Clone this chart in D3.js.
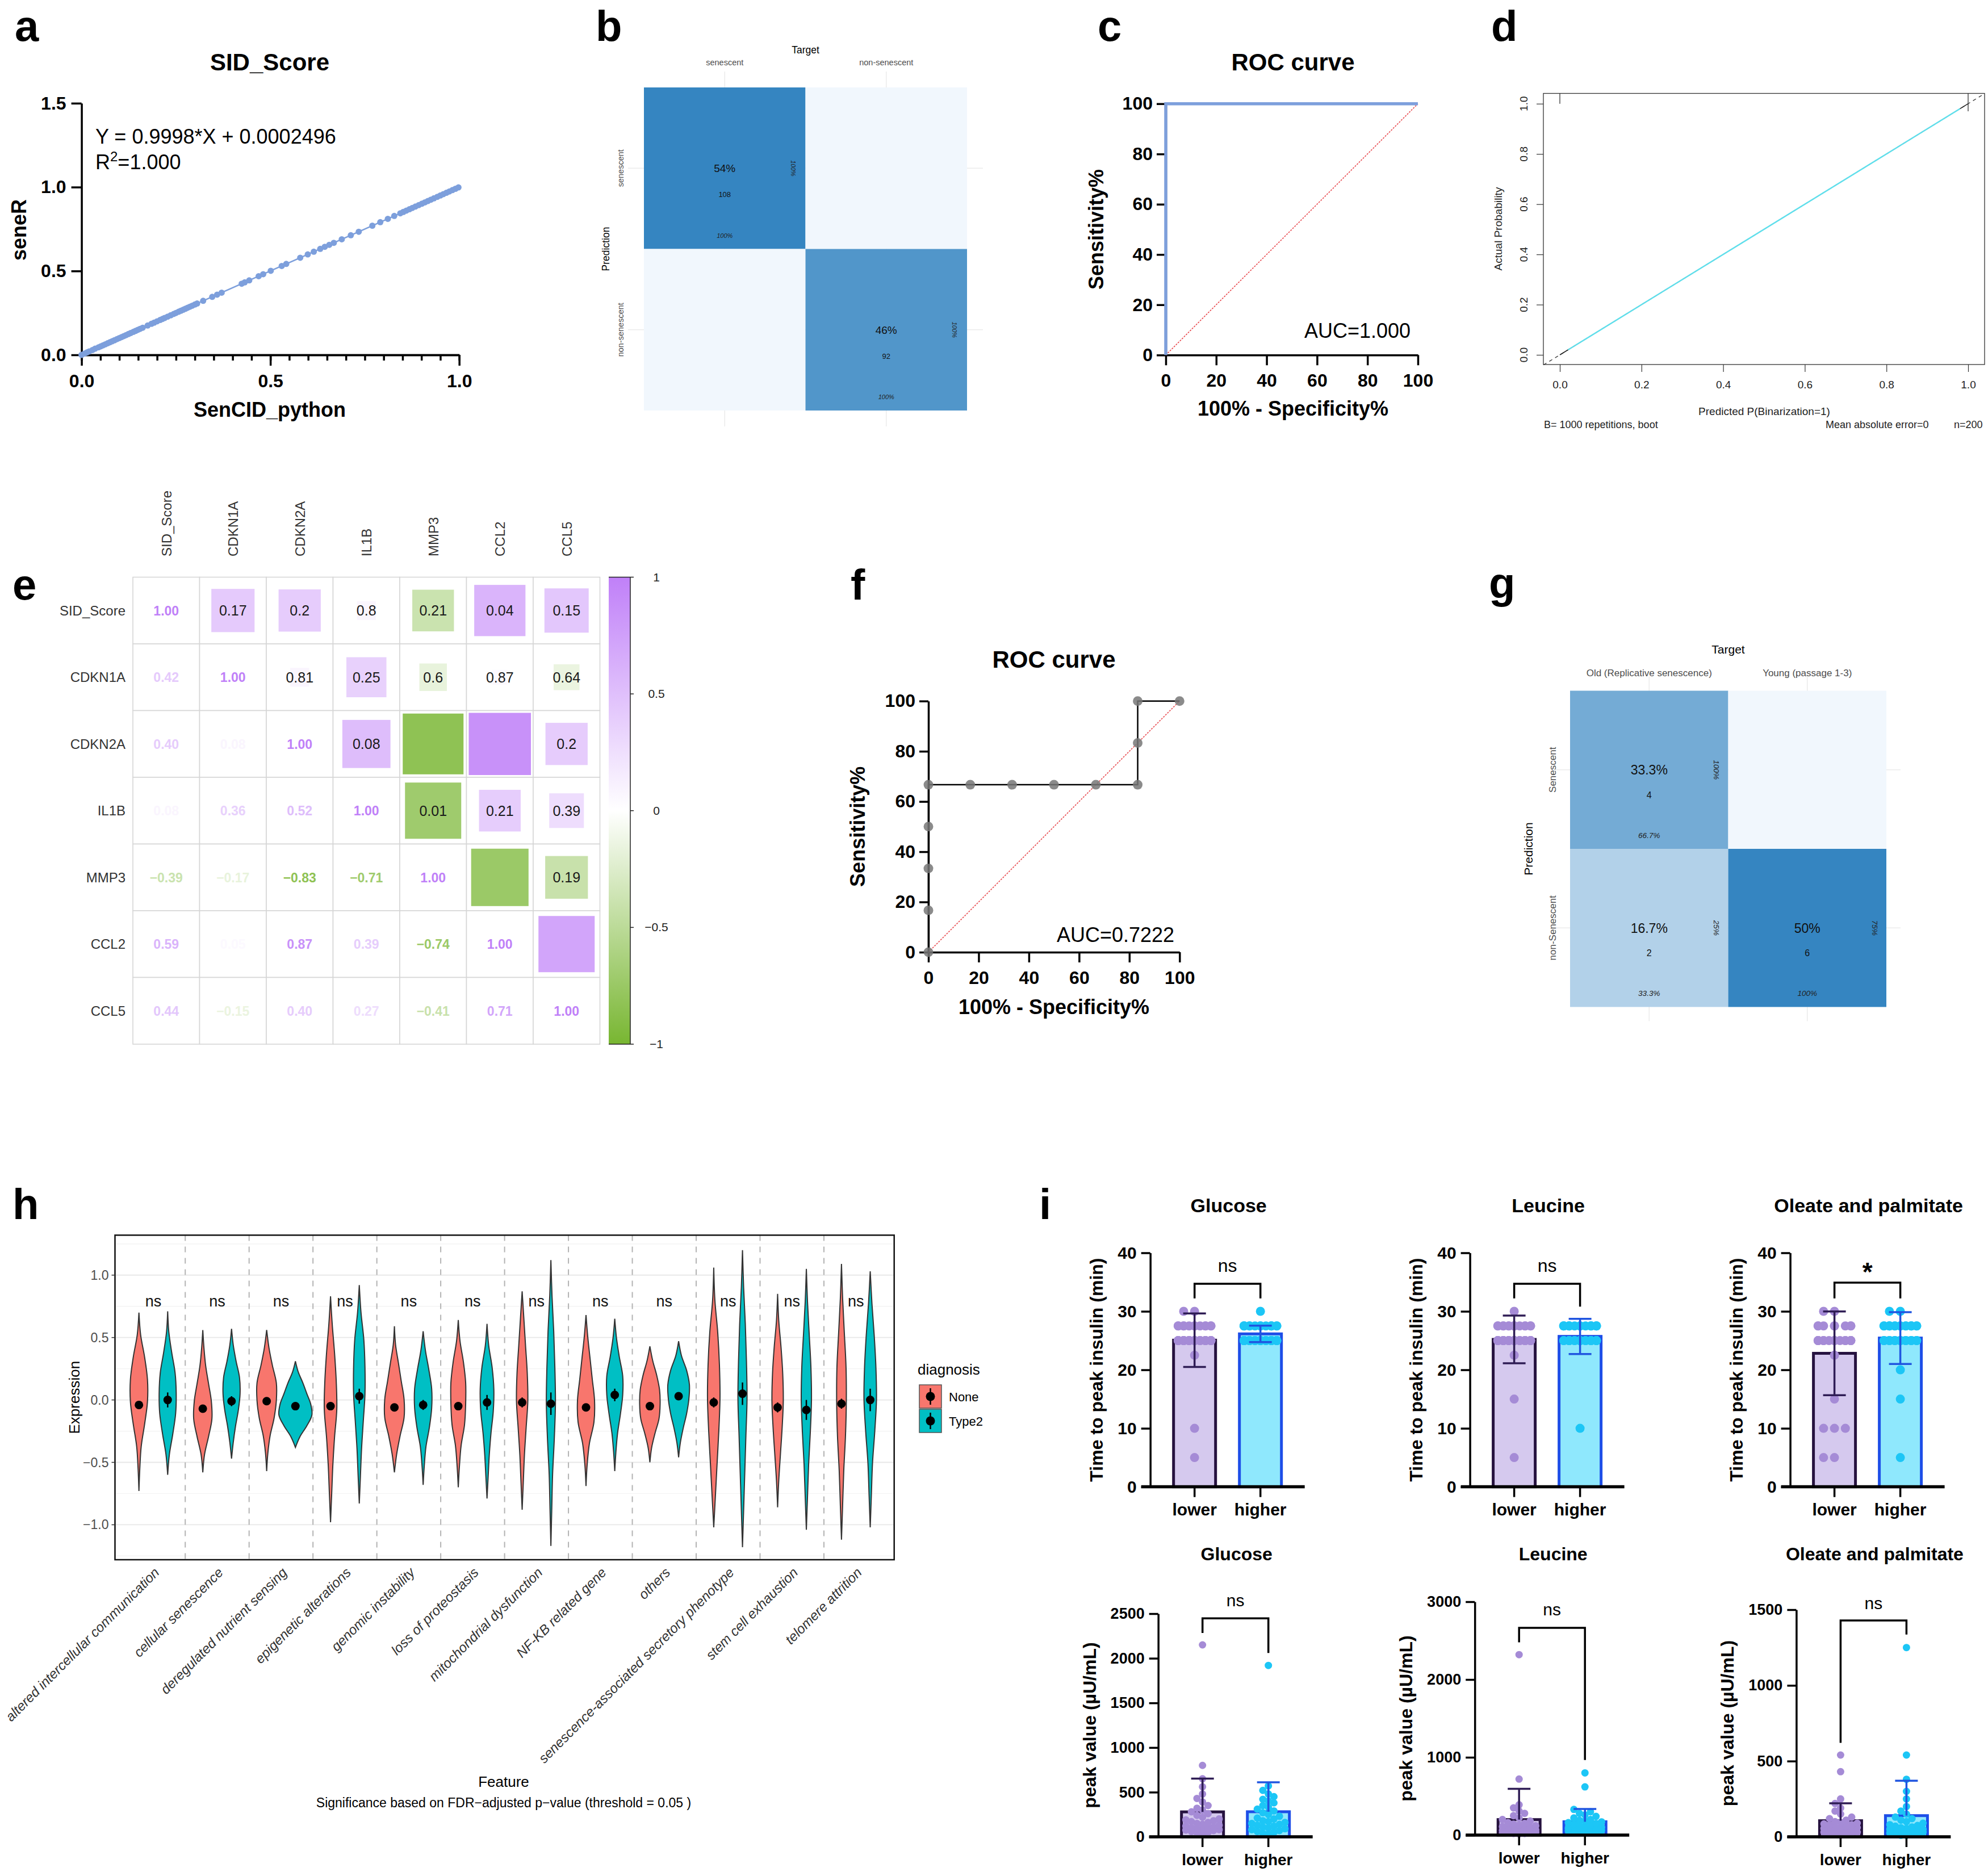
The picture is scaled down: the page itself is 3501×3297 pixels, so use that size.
<!DOCTYPE html>
<html lang="en">
<head>
<meta charset="UTF-8">
<title>SID score validation figure</title>
<script src="https://cdn.jsdelivr.net/npm/d3@7"></script>
<style>
  body { margin: 0; background: #fff; }
  svg { display: block; }
</style>
</head>
<body>
<svg id="fig" width="3501" height="3297"></svg>
<script>
// ================= data =================

// a: SID_Score, seneR vs SenCID_python
var sidX = [0.000,0.008,0.014,0.020,0.029,0.036,0.045,0.051,0.057,0.063,0.069,0.075,0.081,0.087,0.094,0.100,0.106,0.112,0.118,0.124,0.130,0.137,0.143,0.149,0.155,0.162,0.175,0.185,0.192,0.200,0.208,0.214,0.220,0.228,0.236,0.244,0.250,0.257,0.263,0.269,0.275,0.281,0.287,0.293,0.300,0.306,0.322,0.346,0.359,0.371,0.424,0.432,0.444,0.469,0.481,0.501,0.530,0.542,0.579,0.599,0.615,0.632,0.644,0.656,0.668,0.689,0.713,0.734,0.770,0.791,0.811,0.828,0.844,0.852,0.860,0.868,0.876,0.884,0.893,0.901,0.909,0.917,0.925,0.933,0.942,0.950,0.958,0.966,0.974,0.982,0.990,0.998];
var sidY = [0.000,0.008,0.014,0.020,0.029,0.037,0.045,0.051,0.057,0.063,0.069,0.075,0.081,0.087,0.094,0.100,0.106,0.112,0.118,0.124,0.130,0.137,0.143,0.149,0.155,0.162,0.175,0.185,0.192,0.200,0.208,0.214,0.220,0.228,0.236,0.244,0.250,0.257,0.263,0.269,0.275,0.281,0.287,0.293,0.300,0.306,0.322,0.346,0.359,0.371,0.424,0.432,0.444,0.469,0.481,0.501,0.530,0.542,0.579,0.599,0.615,0.632,0.644,0.656,0.668,0.689,0.713,0.734,0.770,0.791,0.811,0.828,0.844,0.852,0.860,0.868,0.876,0.884,0.893,0.901,0.909,0.917,0.925,0.933,0.942,0.950,0.958,0.966,0.974,0.982,0.990,0.998];

// b: confusion matrix (rows = prediction, cols = target)
var cmBLabels = ["senescent", "non-senescent"];
var cmBCounts = [[108, 0], [0, 92]];

// c: ROC, SID_Score
var rocC = [[0, 0], [0, 100], [100, 100]];

// d: calibration
var calibApparent = [[0, 0], [1, 1]];
var calibBias = [[0.02, 0.02], [0.98, 0.98]];
var calibIdeal = [[-0.04, -0.04], [1.04, 1.04]];
var calibRug = [[0, 1.0], [1.0, 0.97]];

// e: correlations (lower triangle r) and p values (upper triangle)
var genes = ["SID_Score", "CDKN1A", "CDKN2A", "IL1B", "MMP3", "CCL2", "CCL5"];
var corrR = [
  [1],
  [0.42, 1],
  [0.40, 0.08, 1],
  [0.08, 0.36, 0.52, 1],
  [-0.39, -0.17, -0.83, -0.71, 1],
  [0.59, 0.05, 0.87, 0.39, -0.74, 1],
  [0.44, -0.15, 0.40, 0.27, -0.41, 0.71, 1]
];
var corrP = [
  ["0.17", "0.2", "0.8", "0.21", "0.04", "0.15"],
  ["0.81", "0.25", "0.6", "0.87", "0.64"],
  ["0.08", "", "", "0.2"],
  ["0.01", "0.21", "0.39"],
  ["", "0.19"],
  [""]
];
var corrTicks = [1, 0.5, 0, -0.5, -1];

// f: ROC, validation
var rocF = [[0,0],[0,16.67],[0,33.33],[0,50],[0,66.67],[16.67,66.67],[33.33,66.67],[50,66.67],[66.67,66.67],[83.33,66.67],[83.33,83.33],[83.33,100],[100,100]];

// g: confusion matrix
var cmGCols = ["Old (Replicative senescence)", "Young (passage 1-3)"];
var cmGRows = ["Senescent", "non-Senescent"];
var cmGCounts = [[4, 0], [2, 6]];

// h: hallmark violins
var features = ["altered intercellular communication","cellular senescence","deregulated nutrient sensing","epigenetic alterations","genomic instability","loss of proteostasis","mitochondrial dysfunction","NF-KB related gene","others","senescence-associated secretory phenotype","stem cell exhaustion","telomere attrition"];
var diagnosis = ["None", "Type2"];
var noneRange = [[-0.73,0.70],[-0.58,0.56],[-0.57,0.56],[-0.98,0.83],[-0.58,0.59],[-0.70,0.64],[-0.88,0.87],[-0.69,0.68],[-0.50,0.43],[-1.02,1.06],[-0.86,0.85],[-1.12,1.09]];
var type2Range = [[-0.60,0.71],[-0.47,0.57],[-0.38,0.31],[-0.83,0.92],[-0.68,0.55],[-0.79,0.61],[-1.17,1.12],[-0.57,0.65],[-0.46,0.47],[-1.18,1.20],[-1.04,1.05],[-1.02,1.03]];
// density read at 9 evenly spaced levels from min to max
var noneShape = [
  [0,1.5,4,10,15,15,10,3,0],
  [0,3,10,16,15,10,5,2,0],
  [0,2,6,13,17,17,10,4,0],
  [0,2,4,7,11,10,7,3,0],
  [0,4,10,17,17,12,7,2,0],
  [0,2,5,11,13,13,9,3,0],
  [0,2,4,7,10,9,6,3,0],
  [0,2,6,14,15,11,7,3,0],
  [0,3,9,16,18,17,12,5,0],
  [0,3,6,9,11,10,7,2,0],
  [0,2,5,8,10,9,6,2,0],
  [0,2,4,7,8.5,8,5,2,0]
];
var type2Shape = [
  [0,3,9,14,15,13,7,2,0],
  [0,3,7,12,15,14,8,3,0],
  [0,8,20,29,27,20,13,5,0],
  [0,2,4,7,10,10,8,3,0],
  [0,2,5,11,15,15,10,4,0],
  [0,2,4,7,11,12,9,3,0],
  [0,1.5,3,6,8,7,5,2,0],
  [0,2,5,10,14,14,8,3,0],
  [0,3,8,14,18,19,14,5,0],
  [0,2,4,6,8,7,5,2,0],
  [0,2,4,7,9,8,5,2,0],
  [0,2,4,8,11,10,7,3,0]
];
var noneMean = [-0.04,-0.07,-0.01,-0.05,-0.06,-0.05,-0.02,-0.06,-0.05,-0.02,-0.06,-0.03];
var type2Mean = [0.00,-0.01,-0.05,0.03,-0.04,-0.02,-0.03,0.04,0.03,0.05,-0.08,0.00];
var noneSE = [0.03,0.03,0.03,0.03,0.03,0.03,0.04,0.03,0.03,0.04,0.04,0.04];
var type2SE = [0.06,0.04,0.03,0.06,0.04,0.06,0.09,0.05,0.03,0.09,0.08,0.09];
var featureSig = ["ns","ns","ns","ns","ns","ns","ns","ns","ns","ns","ns","ns"];

// i: insulin secretion
var stimuli = ["Glucose", "Leucine", "Oleate and palmitate"];
var groups = ["lower", "higher"];
var glucoseTimeLower = [30,30,27.5,27.5,27.5,27.5,27.5,27.5,27.5,27.5,27.5,27.5,27.5,27.5,25,25,25,25,25,25,25,25,25,25,25,25,25,25,25,25,25,25,25,25,22.5,10,5];
var glucoseTimeHigher = [30,27.5,27.5,27.5,27.5,27.5,27.5,27.5,27.5,27.5,27.5,27.5,27.5,27.5,27.5,25,25,25,25,25,25,25,25,25,25,25,25,25,25,25,25,25,25,25,25];
var leucineTimeLower = [30,27.5,27.5,27.5,27.5,27.5,27.5,27.5,27.5,27.5,27.5,27.5,27.5,27.5,27.5,25,25,25,25,25,25,25,25,25,25,25,25,25,25,25,25,25,25,25,25,22.5,15,5];
var leucineTimeHigher = [27.5,27.5,27.5,27.5,27.5,27.5,27.5,27.5,27.5,27.5,27.5,27.5,27.5,27.5,27.5,27.5,25,25,25,25,25,25,25,25,25,25,25,25,25,25,25,25,25,25,10];
var oleateTimeLower = [30,30,27.5,27.5,27.5,27.5,27.5,27.5,27.5,27.5,25,25,25,25,25,25,25,25,25,25,25,25,25,25,22.5,15,10,10,10,5,5];
var oleateTimeHigher = [30,30,27.5,27.5,27.5,27.5,27.5,27.5,27.5,27.5,27.5,27.5,27.5,27.5,27.5,27.5,27.5,27.5,25,25,25,25,25,25,25,25,25,25,25,25,25,25,20,15,5];
var glucosePeakLower = [2150,800,650,560,480,430,390,350,320,300,280,260,240,220,200,190,180,170,160,150,140,130,120,110,100,95,90,85,80,75,70,60,50,45,40];
var glucosePeakHigher = [1920,570,520,480,450,420,400,380,350,330,310,290,270,250,230,210,200,180,170,160,150,140,130,120,110,100,90,80,70,60,50,40,30];
var leucinePeakLower = [2320,720,390,350,310,280,250,220,200,180,160,150,140,130,120,110,100,90,80,75,70,65,60,55,50,45,40,40,35,30,30,25,20,20,15];
var leucinePeakHigher = [800,620,330,300,280,260,240,220,200,190,180,170,160,150,140,130,120,110,100,90,85,80,75,70,65,60,55,50,45,40,35,30];
var oleatePeakLower = [540,430,250,220,190,170,150,130,120,110,100,95,90,85,80,75,70,65,60,60,55,50,45,40,40,35,30,30,25,20,20,15,10];
var oleatePeakHigher = [1250,540,380,300,250,200,170,150,130,120,110,100,90,80,75,70,65,60,55,50,50,45,40,40,35,30,30,25,20,20,15,10,10];
var timeSig = ["ns", "ns", "*"];
var peakSig = ["ns", "ns", "ns"];
// brackets in data units: [bar height, left leg end, right leg end, label height]
var timeBrackets = [[34.7,32.2,32.2,36.7],[34.7,32.2,30.8,36.7],[34.9,32.2,32.2,36.4]];
var peakBrackets = [[2447,2284,2060,2580],[2665,2479,965,2827],[1429,621,1336,1503]];

// ================= drawing =================
var FONT = "'Liberation Sans', Arial, Helvetica, sans-serif";
var svg = d3.select("#fig").attr("font-family", FONT);
svg.append("rect").attr("width", 3501).attr("height", 3297).attr("fill", "#fff");

function txt(parent, x, y, s, size, o) {
  o = o || {};
  var t = parent.append("text").attr("x", x).attr("y", y)
    .attr("font-size", size).attr("fill", o.fill || "#000")
    .attr("text-anchor", o.anchor || "start").text(s);
  if (o.bold) t.attr("font-weight", "bold");
  if (o.italic) t.attr("font-style", "italic");
  if (o.rot) t.attr("transform", "rotate(" + o.rot + "," + x + "," + y + ")");
  return t;
}

function styleAxis(a, size, o) {
  o = o || {};
  a.attr("font-family", null).attr("font-size", null);
  a.selectAll("path, line").attr("stroke", o.stroke || "#000").attr("stroke-width", o.sw || 3.5);
  a.selectAll("text").attr("font-size", size).attr("fill", o.fill || "#000")
    .attr("font-weight", o.bold ? "bold" : null);
}

// panel letters
[["a", 26, 72], ["b", 1049, 72], ["c", 1933, 72], ["d", 2626, 72],
 ["e", 22, 1056], ["f", 1498, 1056], ["g", 2622, 1053],
 ["h", 22, 2147], ["i", 1830, 2147]].forEach(function (l) {
  txt(svg, l[1], l[2], l[0], 76, { bold: true });
});

// ---------- a ----------
(function () {
  var g = svg.append("g");
  var x = d3.scaleLinear().domain([0, 1]).range([143.6, 808.7]);
  var y = d3.scaleLinear().domain([0, 1.5]).range([625, 181.8]);
  var minor = g.append("g").attr("transform", "translate(0,625)")
    .call(d3.axisBottom(x).tickValues(d3.range(0, 21).map(function (i) { return i / 20; }))
      .tickSize(10).tickFormat("").tickSizeOuter(0));
  styleAxis(minor, 31);
  var xa = g.append("g").attr("transform", "translate(0,625)")
    .call(d3.axisBottom(x).tickValues([0, 0.5, 1]).tickSize(19).tickPadding(15)
      .tickFormat(d3.format(".1f")).tickSizeOuter(0));
  styleAxis(xa, 32, { bold: true });
  var ya = g.append("g").attr("transform", "translate(143.6,0)")
    .call(d3.axisLeft(y).tickValues([0, 0.5, 1, 1.5]).tickSize(18).tickPadding(9)
      .tickFormat(d3.format(".1f")).tickSizeOuter(0));
  styleAxis(ya, 32, { bold: true });

  g.append("line").attr("x1", x(0)).attr("y1", y(0.0002496))
    .attr("x2", x(1)).attr("y2", y(0.9998 + 0.0002496))
    .attr("stroke", "#7d9fdc").attr("stroke-width", 2.5);
  g.selectAll("circle.pt").data(sidX).enter().append("circle")
    .attr("cx", function (d) { return x(d); })
    .attr("cy", function (d, i) { return y(sidY[i]); })
    .attr("r", 5.5).attr("fill", "#7d9fdc");

  txt(g, 475, 124, "SID_Score", 42, { bold: true, anchor: "middle" });
  txt(g, 168, 253, "Y = 0.9998*X + 0.0002496", 36);
  var r2 = txt(g, 168, 298, "R", 36);
  r2.append("tspan").attr("dy", -14).attr("font-size", 24).text("2");
  r2.append("tspan").attr("dy", 14).text("=1.000");
  txt(g, 475, 734, "SenCID_python", 36, { bold: true, anchor: "middle" });
  txt(g, 46, 405, "seneR", 36, { bold: true, anchor: "middle", rot: -90 });
})();

// ---------- confusion matrices (b, g) ----------
function drawCM(o) {
  var g = svg.append("g");
  var xb = d3.scaleBand().domain(o.cols).range([o.x, o.x + o.size]);
  var yb = d3.scaleBand().domain(o.rows).range([o.y, o.y + o.size]);
  var cw = xb.bandwidth(), ch = yb.bandwidth();
  var flat = o.counts.flat();
  var total = d3.sum(flat);
  var fill = d3.scaleLinear().domain([0, d3.max(flat)]).range(["#f1f7fd", "#3585c1"]);
  var pct = function (v) { return d3.format(".1~f")(v * 100) + "%"; };
  var grid = "#ebebeb";

  o.cols.forEach(function (c) {
    var cx = xb(c) + cw / 2;
    g.append("line").attr("x1", cx).attr("x2", cx).attr("y1", o.y - o.stub).attr("y2", o.y + o.size + o.stub)
      .attr("stroke", grid).attr("stroke-width", 1.5);
    txt(g, cx, o.y - o.colLab, c, o.f.axis, { anchor: "middle", fill: "#4d4d4d" });
  });
  o.rows.forEach(function (r) {
    var cy = yb(r) + ch / 2;
    g.append("line").attr("y1", cy).attr("y2", cy).attr("x1", o.x - o.stub).attr("x2", o.x + o.size + o.stub)
      .attr("stroke", grid).attr("stroke-width", 1.5);
    txt(g, o.x - o.rowLab, cy, r, o.f.axis, { anchor: "middle", fill: "#4d4d4d", rot: -90 });
  });

  o.rows.forEach(function (r, i) {
    o.cols.forEach(function (c, j) {
      var n = o.counts[i][j];
      g.append("rect").attr("x", xb(c)).attr("y", yb(r)).attr("width", cw).attr("height", ch)
        .attr("fill", fill(n));
      if (n === 0) return;
      var cx = xb(c) + cw / 2, cy = yb(r) + ch / 2;
      var colTot = d3.sum(o.counts, function (row) { return row[j]; });
      var rowTot = d3.sum(o.counts[i]);
      txt(g, cx, cy + o.f.main * 0.36, pct(n / total), o.f.main, { anchor: "middle", fill: "#111" });
      txt(g, cx, cy + ch * 0.18, n, o.f.count, { anchor: "middle", fill: "#111" });
      txt(g, cx, cy + ch * 0.43, pct(n / colTot), o.f.small, { anchor: "middle", italic: true, fill: "#222" });
      txt(g, cx + cw * 0.41, cy, pct(n / rowTot), o.f.small, { anchor: "middle", italic: true, fill: "#222", rot: 90 });
    });
  });

  txt(g, o.x + o.size / 2, o.y - o.target, "Target", o.f.title, { anchor: "middle" });
  txt(g, o.x - o.pred, o.y + o.size / 2, "Prediction", o.f.title, { anchor: "middle", rot: -90 });
}

drawCM({ x: 1134, y: 154, size: 569, cols: cmBLabels, rows: cmBLabels, counts: cmBCounts,
  stub: 28, colLab: 39, rowLab: 36, target: 60, pred: 61,
  f: { axis: 14.5, title: 17.5, main: 19, count: 13, small: 11 } });
drawCM({ x: 2765, y: 1216.5, size: 557, cols: cmGCols, rows: cmGRows, counts: cmGCounts,
  stub: 25, colLab: 26, rowLab: 25, target: 66, pred: 66,
  f: { axis: 17, title: 21, main: 23, count: 16, small: 13.5 } });

// ---------- ROC curves (c, f) ----------
function drawROC(o) {
  var g = svg.append("g");
  var x = d3.scaleLinear().domain([0, 100]).range(o.xr);
  var y = d3.scaleLinear().domain([0, 100]).range(o.yr);
  var ticks = [0, 20, 40, 60, 80, 100];
  var xa = g.append("g").attr("transform", "translate(0," + o.yr[0] + ")")
    .call(d3.axisBottom(x).tickValues(ticks).tickSize(18).tickPadding(15).tickSizeOuter(0));
  styleAxis(xa, 32, { bold: true });
  var ya = g.append("g").attr("transform", "translate(" + o.xr[0] + ",0)")
    .call(d3.axisLeft(y).tickValues(ticks).tickSize(16).tickPadding(7).tickSizeOuter(0));
  styleAxis(ya, 32, { bold: true });

  g.append("line").attr("x1", x(0)).attr("y1", y(0)).attr("x2", x(100)).attr("y2", y(100))
    .attr("stroke", "#e8474c").attr("stroke-width", 1.6).attr("stroke-dasharray", "3,2");
  var line = d3.line().x(function (d) { return x(d[0]); }).y(function (d) { return y(d[1]); });
  g.append("path").datum(o.data).attr("d", line).attr("fill", "none")
    .attr("stroke", o.lineColor).attr("stroke-width", o.lineWidth);
  if (o.dots) {
    g.selectAll("circle.roc").data(o.data).enter().append("circle")
      .attr("cx", function (d) { return x(d[0]); }).attr("cy", function (d) { return y(d[1]); })
      .attr("r", 8.5).attr("fill", "#777").attr("fill-opacity", 0.85);
  }
  txt(g, o.titleX, o.titleY, "ROC curve", 42, { bold: true, anchor: "middle" });
  txt(g, o.aucX, o.aucY, o.auc, 36);
  txt(g, o.titleX, o.xlabY, "100% - Specificity%", 36, { bold: true, anchor: "middle" });
  txt(g, o.ylabX, (o.yr[0] + o.yr[1]) / 2, "Sensitivity%", 36, { bold: true, anchor: "middle", rot: -90 });
}

drawROC({ xr: [2053, 2497], yr: [625.3, 182.7], data: rocC, lineColor: "#7d9fdc", lineWidth: 5.5,
  titleX: 2277, titleY: 124, aucX: 2297, aucY: 595, auc: "AUC=1.000", xlabY: 732, ylabX: 1943 });
drawROC({ xr: [1635, 2077.3], yr: [1677, 1234.7], data: rocF, lineColor: "#000", lineWidth: 2.5, dots: true,
  titleX: 1856, titleY: 1176, aucX: 1861, aucY: 1659, auc: "AUC=0.7222", xlabY: 1786, ylabX: 1523 });

// ---------- d: calibration ----------
(function () {
  var g = svg.append("g");
  var x = d3.scaleLinear().domain([0, 1]).range([2747, 3466]);
  var y = d3.scaleLinear().domain([0, 1]).range([625, 182.7]);
  var line = d3.line().x(function (d) { return x(d[0]); }).y(function (d) { return y(d[1]); });
  var ticks = [0, 0.2, 0.4, 0.6, 0.8, 1.0];
  var xa = g.append("g").attr("transform", "translate(0,642)")
    .call(d3.axisBottom(x).tickValues(ticks).tickSize(13).tickPadding(16).tickFormat(d3.format(".1f")));
  xa.select(".domain").remove();
  styleAxis(xa, 19, { sw: 1.2, stroke: "#333", fill: "#222" });
  var ya = g.append("g").attr("transform", "translate(2718,0)")
    .call(d3.axisLeft(y).tickValues(ticks).tickSize(12).tickFormat(""));
  ya.select(".domain").remove();
  styleAxis(ya, 19, { sw: 1.2, stroke: "#333" });
  ticks.forEach(function (t) {
    txt(g, 2690, y(t), d3.format(".1f")(t), 19, { anchor: "middle", fill: "#222", rot: -90 });
  });
  g.append("path").datum(calibIdeal).attr("d", line).attr("stroke", "#333").attr("stroke-width", 1.3)
    .attr("stroke-dasharray", "6,6").attr("fill", "none");
  g.append("path").datum(calibApparent).attr("d", line).attr("stroke", "#222").attr("stroke-width", 1.5).attr("fill", "none");
  g.append("path").datum(calibBias).attr("d", line).attr("stroke", "#5fe3f0").attr("stroke-width", 2.2).attr("fill", "none");
  calibRug.forEach(function (r) {
    g.append("line").attr("x1", x(r[0])).attr("x2", x(r[0])).attr("y1", 164.5).attr("y2", y(r[1]))
      .attr("stroke", "#333").attr("stroke-width", 1.3);
  });
  g.append("rect").attr("x", 2718).attr("y", 164.5).attr("width", 777).attr("height", 477.5)
    .attr("fill", "none").attr("stroke", "#333").attr("stroke-width", 1.3);
  txt(g, 2645, 403, "Actual Probability", 19, { anchor: "middle", fill: "#222", rot: -90 });
  txt(g, 3107, 731, "Predicted P(Binarization=1)", 19, { anchor: "middle", fill: "#222" });
  txt(g, 2719, 754, "B= 1000 repetitions, boot", 18, { fill: "#222" });
  txt(g, 3215, 754, "Mean absolute error=0", 18, { fill: "#222" });
  txt(g, 3441, 754, "n=200", 18, { fill: "#222" });
})();

// ---------- e: correlation plot ----------
(function () {
  var g = svg.append("g");
  var cell = 117.5, x0 = 234, y0 = 1016.5;
  var xb = d3.scaleBand().domain(genes).range([x0, x0 + cell * genes.length]);
  var yb = d3.scaleBand().domain(genes).range([y0, y0 + cell * genes.length]);
  var col = d3.scaleLinear().domain([-1, 0, 1]).range(["#78b631", "#ffffff", "#c080f8"]);
  var f2 = d3.format(".2f");

  genes.forEach(function (gn, i) {
    genes.forEach(function (gm, j) {
      var cx = xb(gm) + cell / 2, cy = yb(gn) + cell / 2;
      g.append("rect").attr("x", xb(gm)).attr("y", yb(gn)).attr("width", cell).attr("height", cell)
        .attr("fill", "#fff").attr("stroke", "#d6d6d6").attr("stroke-width", 1.6);
      if (j < i) {
        var r = corrR[i][j];
        txt(g, cx, cy + 8.5, f2(r), 23, { anchor: "middle", bold: true, fill: col(r) });
      } else if (j === i) {
        txt(g, cx, cy + 8.5, f2(1), 23, { anchor: "middle", bold: true, fill: col(1) });
      } else {
        var rr = corrR[j][i];
        var side = cell * Math.sqrt(Math.abs(rr));
        g.append("rect").attr("x", cx - side / 2).attr("y", cy - side / 2).attr("width", side).attr("height", side)
          .attr("fill", col(rr));
        var p = corrP[i][j - i - 1];
        if (p) txt(g, cx, cy + 9, p, 25, { anchor: "middle", fill: "#1a1a1a" });
      }
    });
  });
  genes.forEach(function (gn) {
    txt(g, 221, yb(gn) + cell / 2 + 8.5, gn, 24, { anchor: "end", fill: "#333" });
    var cx = xb(gn) + cell / 2 + 9;
    txt(g, cx, 980, gn, 24, { fill: "#333", rot: -90 });
  });

  // colour bar
  var grad = svg.append("defs").append("linearGradient").attr("id", "corrGrad")
    .attr("x1", 0).attr("y1", 0).attr("x2", 0).attr("y2", 1);
  [1, 0, -1].forEach(function (v, k) {
    grad.append("stop").attr("offset", k / 2).attr("stop-color", col(v));
  });
  var cb = d3.scaleLinear().domain([1, -1]).range([y0, y0 + cell * 7]);
  g.append("rect").attr("x", 1072).attr("y", y0).attr("width", 38).attr("height", cell * 7)
    .attr("fill", "url(#corrGrad)");
  g.append("line").attr("x1", 1110).attr("x2", 1110).attr("y1", y0).attr("y2", y0 + cell * 7)
    .attr("stroke", "#222").attr("stroke-width", 1.5);
  g.append("line").attr("x1", 1072).attr("x2", 1110).attr("y1", y0).attr("y2", y0)
    .attr("stroke", "#222").attr("stroke-width", 1.5);
  g.append("line").attr("x1", 1072).attr("x2", 1110).attr("y1", y0 + cell * 7).attr("y2", y0 + cell * 7)
    .attr("stroke", "#222").attr("stroke-width", 1.5);
  corrTicks.forEach(function (t) {
    g.append("line").attr("x1", 1110).attr("x2", 1116).attr("y1", cb(t)).attr("y2", cb(t))
      .attr("stroke", "#222").attr("stroke-width", 1.5);
    txt(g, 1156, cb(t) + 7, d3.format("~g")(t), 21, { anchor: "middle", fill: "#222" });
  });
})();

// ---------- h: violins ----------
(function () {
  var g = svg.append("g");
  var x0 = 202.5, x1 = 1574.7, yTop = 2175.4, yBot = 2747;
  var x = d3.scalePoint().domain(features).range([x0, x1]).padding(0.6);
  var y = d3.scaleLinear().domain([-1.28, 1.32]).range([yBot, yTop]);
  var step = x.step();
  var w = d3.scaleLinear().domain([0, 30]).range([0, step * 0.267]);
  var dodge = step * 0.225;
  var colors = { None: "#f8766d", Type2: "#00bfc4" };

  // grid
  [-1.25, -0.75, -0.25, 0.25, 0.75, 1.25].forEach(function (v) {
    g.append("line").attr("x1", x0).attr("x2", x1).attr("y1", y(v)).attr("y2", y(v))
      .attr("stroke", "#f2f2f2").attr("stroke-width", 1.2);
  });
  [-1, -0.5, 0, 0.5, 1].forEach(function (v) {
    g.append("line").attr("x1", x0).attr("x2", x1).attr("y1", y(v)).attr("y2", y(v))
      .attr("stroke", "#e8e8e8").attr("stroke-width", 1.8);
  });
  features.slice(0, -1).forEach(function (f) {
    var bx = x(f) + step / 2;
    g.append("line").attr("x1", bx).attr("x2", bx).attr("y1", yTop).attr("y2", yBot)
      .attr("stroke", "#b3b3b3").attr("stroke-width", 2).attr("stroke-dasharray", "10,10");
  });

  function violin(cx, range, shape, mean, se, color) {
    var pts = shape.map(function (d, k) { return [range[0] + (range[1] - range[0]) * k / 8, d]; });
    var area = d3.area().curve(d3.curveCatmullRom.alpha(0.5))
      .y(function (d) { return y(d[0]); })
      .x0(function (d) { return cx - w(d[1]); })
      .x1(function (d) { return cx + w(d[1]); });
    g.append("path").datum(pts).attr("d", area).attr("fill", color)
      .attr("stroke", "#333").attr("stroke-width", 2);
    g.append("line").attr("x1", cx).attr("x2", cx).attr("y1", y(mean - se)).attr("y2", y(mean + se))
      .attr("stroke", "#000").attr("stroke-width", 2.5);
    g.append("circle").attr("cx", cx).attr("cy", y(mean)).attr("r", 7.5).attr("fill", "#000");
  }

  features.forEach(function (f, i) {
    var cx = x(f);
    violin(cx - dodge, noneRange[i], noneShape[i], noneMean[i], noneSE[i], colors.None);
    violin(cx + dodge, type2Range[i], type2Shape[i], type2Mean[i], type2SE[i], colors.Type2);
    txt(g, cx, y(0.75), featureSig[i], 27, { anchor: "middle", fill: "#111" });
    txt(g, cx + 12, yBot + 24, f, 24, { anchor: "end", italic: true, fill: "#333", rot: -45 });
  });

  g.append("rect").attr("x", x0).attr("y", yTop).attr("width", x1 - x0).attr("height", yBot - yTop)
    .attr("fill", "none").attr("stroke", "#111").attr("stroke-width", 2.5);
  [-1, -0.5, 0, 0.5, 1].forEach(function (v) {
    g.append("line").attr("x1", x0 - 6).attr("x2", x0).attr("y1", y(v)).attr("y2", y(v))
      .attr("stroke", "#333").attr("stroke-width", 1.5);
    txt(g, x0 - 11, y(v) + 8, d3.format(".1f")(v), 23, { anchor: "end", fill: "#4d4d4d" });
  });

  txt(g, 140, (yTop + yBot) / 2, "Expression", 26, { anchor: "middle", rot: -90 });
  txt(g, 887, 3147, "Feature", 26, { anchor: "middle" });
  txt(g, 887, 3183, "Significance based on FDR\u2212adjusted p\u2212value (threshold = 0.05 )", 23, { anchor: "middle" });

  // legend
  txt(g, 1616, 2421, "diagnosis", 26);
  diagnosis.forEach(function (d, k) {
    var ky = 2439 + k * 43;
    g.append("rect").attr("x", 1619).attr("y", ky).attr("width", 39).attr("height", 41)
      .attr("fill", colors[d]).attr("stroke", "#555").attr("stroke-width", 1.5);
    g.append("line").attr("x1", 1638.5).attr("x2", 1638.5).attr("y1", ky + 6).attr("y2", ky + 35)
      .attr("stroke", "#000").attr("stroke-width", 2.5);
    g.append("circle").attr("cx", 1638.5).attr("cy", ky + 20.5).attr("r", 8).attr("fill", "#000");
    txt(g, 1671, ky + 29, d, 22);
  });
})();

// ---------- i: bar + dot plots ----------
function swarm(vals, y, cx, r, gap, maxOff) {
  var placed = [];
  var cands = [0];
  for (var k = 1; k * gap <= maxOff; k++) cands.push(-k * gap, k * gap);
  return vals.slice().sort(function (a, b) { return a - b; }).map(function (v, i) {
    var py = y(v), off = null;
    for (var c = 0; c < cands.length; c++) {
      var ok = placed.every(function (p) { return Math.hypot(p.x - (cx + cands[c]), p.y - py) >= gap; });
      if (ok) { off = cands[c]; break; }
    }
    if (off === null) off = cands[i % cands.length];
    var p = { x: cx + off, y: py };
    placed.push(p);
    return p;
  });
}

function drawIPanel(o) {
  var g = svg.append("g");
  var y = d3.scaleLinear().domain([0, o.max]).range([o.y0, o.y1]);
  var x = d3.scalePoint().domain(groups).range([o.ax + 78, o.ax + 194]);
  var barFill = ["#d5c9ee", "#8fe8fd"], barStroke = ["#26123f", "#1d4ee8"];
  var dotFill = ["#a58bd6", "#1cc6f6"], errCol = ["#2f1d55", "#2055e0"];
  var sets = [o.lower, o.higher];

  groups.forEach(function (grp, k) {
    var m = d3.mean(sets[k]);
    g.append("rect").attr("x", x(grp) - 37).attr("width", 74).attr("y", y(m)).attr("height", o.y0 - y(m))
      .attr("fill", barFill[k]).attr("stroke", barStroke[k]).attr("stroke-width", 5);
  });
  groups.forEach(function (grp, k) {
    swarm(sets[k], y, x(grp), o.r, o.r * o.gap, 30).forEach(function (p) {
      g.append("circle").attr("cx", p.x).attr("cy", p.y).attr("r", o.r).attr("fill", dotFill[k]);
    });
  });
  groups.forEach(function (grp, k) {
    var m = d3.mean(sets[k]), sd = d3.deviation(sets[k]);
    var lo = o.both ? m - sd : m, hi = m + sd;
    var cx = x(grp);
    g.append("line").attr("x1", cx).attr("x2", cx).attr("y1", y(lo)).attr("y2", y(hi))
      .attr("stroke", errCol[k]).attr("stroke-width", 3.5);
    g.append("line").attr("x1", cx - 20).attr("x2", cx + 20).attr("y1", y(hi)).attr("y2", y(hi))
      .attr("stroke", errCol[k]).attr("stroke-width", 3.5);
    if (o.both) {
      g.append("line").attr("x1", cx - 20).attr("x2", cx + 20).attr("y1", y(lo)).attr("y2", y(lo))
        .attr("stroke", errCol[k]).attr("stroke-width", 3.5);
    }
  });

  var ya = g.append("g").attr("transform", "translate(" + o.ax + ",0)")
    .call(d3.axisLeft(y).tickValues(o.ticks).tickSize(16).tickPadding(8).tickSizeOuter(0)
      .tickFormat(d3.format("d")));
  styleAxis(ya, o.tickFont, { bold: true, sw: 3.5 });
  g.append("line").attr("x1", o.ax - 16).attr("x2", o.ax + 272).attr("y1", o.y0).attr("y2", o.y0)
    .attr("stroke", "#000").attr("stroke-width", 5.5);
  groups.forEach(function (grp) {
    g.append("line").attr("x1", x(grp)).attr("x2", x(grp)).attr("y1", o.y0).attr("y2", o.y0 + 18)
      .attr("stroke", "#000").attr("stroke-width", 3.5);
    txt(g, x(grp), o.y0 + 50, grp, o.catFont, { anchor: "middle", bold: true });
  });

  var b = o.bracket;
  g.append("path").attr("d", "M" + x("lower") + "," + y(b[1]) + "V" + y(b[0]) + "H" + x("higher") + "V" + y(b[2]))
    .attr("fill", "none").attr("stroke", "#000").attr("stroke-width", 3.5);
  if (o.sig === "*") txt(g, o.ax + 136, y(b[3]) + 12, o.sig, 46, { anchor: "middle", bold: true });
  else txt(g, o.ax + 136, y(b[3]), o.sig, o.sigFont, { anchor: "middle" });

  txt(g, o.ax + 138, o.titleY, o.title, o.titleFont, { anchor: "middle", bold: true });
  txt(g, o.ax - o.ytOff, (o.y0 + o.y1) / 2, o.ytitle, 32, { anchor: "middle", bold: true, rot: -90 });
}

var timeSets = [[glucoseTimeLower, glucoseTimeHigher], [leucineTimeLower, leucineTimeHigher], [oleateTimeLower, oleateTimeHigher]];
var peakSets = [[glucosePeakLower, glucosePeakHigher], [leucinePeakLower, leucinePeakHigher], [oleatePeakLower, oleatePeakHigher]];
var topAx = [2025.7, 2588.6, 3152.6];
var botAx = [2039.7, 2597.2, 3163.4];
var botY = [[3235, 2842, 2500, [0, 500, 1000, 1500, 2000, 2500]],
            [3232, 2821, 3000, [0, 1000, 2000, 3000]],
            [3235, 2835, 1500, [0, 500, 1000, 1500]]];

stimuli.forEach(function (s, k) {
  drawIPanel({ ax: topAx[k], y0: 2618.6, y1: 2206.5, max: 40, ticks: [0, 10, 20, 30, 40],
    lower: timeSets[k][0], higher: timeSets[k][1], both: true, r: 8, gap: 1.2,
    bracket: timeBrackets[k], sig: timeSig[k], sigFont: 32,
    title: s, titleY: 2135, titleFont: 34, tickFont: 30, catFont: 30,
    ytitle: "Time to peak insulin (min)", ytOff: 84 });
  drawIPanel({ ax: botAx[k], y0: botY[k][0], y1: botY[k][1], max: botY[k][2], ticks: botY[k][3],
    lower: peakSets[k][0], higher: peakSets[k][1], both: false, r: 6.5, gap: 1.5,
    bracket: peakBrackets[k], sig: peakSig[k], sigFont: 30,
    title: s, titleY: 2748, titleFont: 32, tickFont: 27, catFont: 28,
    ytitle: "peak value (\u00b5U/mL)", ytOff: 110 });
});
</script>
</body>
</html>
